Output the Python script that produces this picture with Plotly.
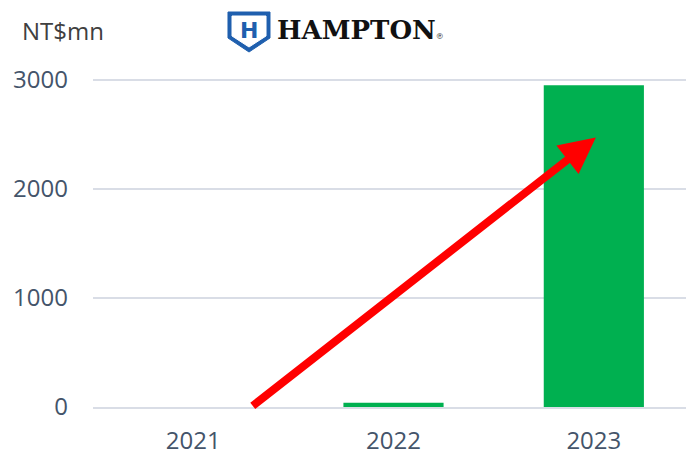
import plotly.graph_objects as go

years = ["2021", "2022", "2023"]
revenue = [0, 40, 2950]
y_ticks = [0, 1000, 2000, 3000]

bar_color = "#00B050"
tick_color = "#44546A"
logo_blue = "#1F5FAE"

fig = go.Figure(go.Bar(x=years, y=revenue, marker_color=bar_color, marker_line_width=0))

# red trend arrow
fig.add_annotation(
    x=2.01, y=2470, ax=0.29, ay=0,
    xref="x", yref="y", axref="x", ayref="y",
    text="", showarrow=True,
    arrowhead=2, arrowsize=0.9, arrowwidth=8, arrowcolor="#FF0000",
)

# unit label
fig.add_annotation(
    x=-0.1215, y=1.047, xref="paper", yref="paper", xanchor="left", yanchor="middle",
    text="NT$mn", showarrow=False,
    font=dict(family="Open Sans", size=24, color="#404040"),
)

# logo: shield + wordmark
fig.add_shape(
    type="path", xref="paper", yref="paper",
    path="M 0.2246 1.0972 L 0.2945 1.0972 L 0.2945 1.025 L 0.2596 0.9861 L 0.2246 1.025 Z",
    fillcolor=logo_blue, line=dict(color=logo_blue, width=1),
)
fig.add_shape(
    type="path", xref="paper", yref="paper",
    path="M 0.2313 1.0861 L 0.2879 1.0861 L 0.2879 1.0306 L 0.2596 1.0 L 0.2313 1.0306 Z",
    fillcolor="white", line=dict(color="white", width=1),
)
fig.add_annotation(
    x=0.2596, y=1.046, xref="paper", yref="paper", xanchor="center", yanchor="middle",
    text="<b>H</b>", showarrow=False,
    font=dict(family="DejaVu Sans", size=22, color=logo_blue),
)
fig.add_annotation(
    x=0.3028, y=1.047, xref="paper", yref="paper", xanchor="left", yanchor="middle",
    text="<b>HAMPTON</b><span style='font-size:8px'>®</span>", showarrow=False,
    font=dict(family="DejaVu Serif", size=26, color="#111111"),
)

# page body has an 8px margin, so the figure is sized to end at the window edge
fig.update_layout(
    width=686, height=447,
    margin=dict(l=85, r=0, t=39, b=48),
    plot_bgcolor="white", paper_bgcolor="white",
    bargap=0.5, showlegend=False,
    font=dict(family="Open Sans", color=tick_color),
)
fig.update_xaxes(
    showgrid=False, showline=True, linecolor="#D9DDE6", linewidth=2, automargin=False,
    tickfont=dict(size=24, color=tick_color), ticklabelstandoff=11,
)
fig.update_yaxes(
    range=[0, 3300], tickvals=y_ticks, showgrid=True, gridcolor="#D9DDE6", gridwidth=1.5,
    zeroline=False, automargin=False,
    tickfont=dict(size=24, color=tick_color), ticklabelstandoff=24,
)

fig.write_html("out.html")
